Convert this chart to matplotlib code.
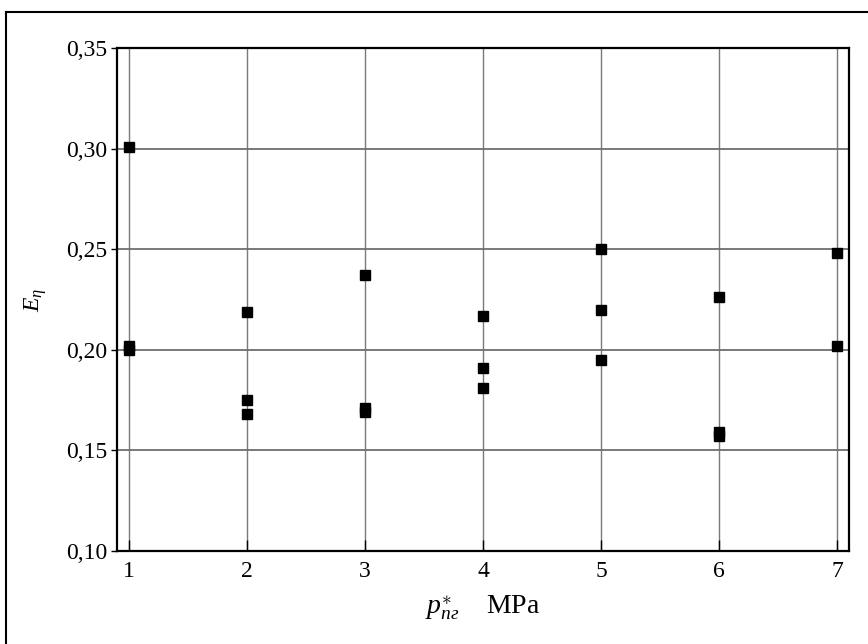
import numpy as np
import matplotlib
matplotlib.use('Agg')
import matplotlib.pyplot as plt
from matplotlib.lines import Line2D
from matplotlib.ticker import FuncFormatter

plt.rcParams['font.family'] = ['Liberation Serif', 'DejaVu Serif']
plt.rcParams['mathtext.fontset'] = 'custom'
plt.rcParams['mathtext.rm'] = 'Liberation Serif'
plt.rcParams['mathtext.it'] = 'Liberation Serif:italic'

# measured points: pressure (MPa) vs efficiency
pressure = [1, 1, 1, 2, 2, 2, 3, 3, 3, 4, 4, 4, 5, 5, 5, 6, 6, 6, 7, 7]
efficiency = [0.301, 0.202, 0.200,
              0.219, 0.175, 0.168,
              0.237, 0.171, 0.169,
              0.217, 0.191, 0.181,
              0.250, 0.220, 0.195,
              0.226, 0.159, 0.157,
              0.248, 0.202]

x_ticks = [1, 2, 3, 4, 5, 6, 7]
y_ticks = [0.10, 0.15, 0.20, 0.25, 0.30, 0.35]

fig = plt.figure(figsize=(8.68, 6.44), dpi=100)
ax = fig.add_axes([0.1348, 0.1444, 0.8433, 0.7811])

for xv in x_ticks:
    ax.axvline(xv, color='#7a7a7a', lw=1.0, zorder=1)
for yv in y_ticks[1:-1]:
    ax.axhline(yv, color='#6e6e6e', lw=1.3, zorder=1)

ax.plot(pressure, efficiency, 's', color='black', ms=6.5, zorder=3)

ax.set_xlim(0.898, 7.1)
ax.set_ylim(0.10, 0.35)
ax.set_xticks(x_ticks)
ax.set_yticks(y_ticks)
ax.yaxis.set_major_formatter(FuncFormatter(lambda v, p: f'{v:.2f}'.replace('.', ',')))
ax.tick_params(axis='x', direction='in', length=8, width=1, labelsize=17, pad=7)
ax.tick_params(axis='y', direction='out', length=4, width=1, labelsize=17, pad=3)
for s in ax.spines.values():
    s.set_linewidth(1.6)

ax.set_xlabel(r'$p^{\ast}_{пг}$    MPa', fontsize=20, labelpad=8)
ax.set_ylabel(r'$E_{\eta}$', fontsize=17, labelpad=12)

# outer frame (top and left edges visible)
fig.add_artist(Line2D([6 / 868, 6 / 868], [0, 1 - 12 / 644], transform=fig.transFigure, color='black', lw=1.5))
fig.add_artist(Line2D([6 / 868, 1], [1 - 12 / 644, 1 - 12 / 644], transform=fig.transFigure, color='black', lw=1.5))

fig.savefig('out.png', dpi=100)
